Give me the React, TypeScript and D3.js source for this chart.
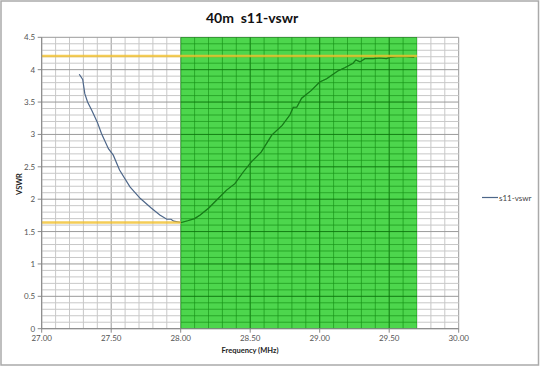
import * as d3 from 'd3';
import React, { useEffect, useRef } from 'react';

// s11 sweep
const freqs = [
  27.27, 27.295, 27.31, 27.33, 27.36, 27.4, 27.43, 27.48, 27.515, 27.56, 27.635, 27.71, 27.79, 27.85, 27.9, 27.93, 27.95,
  28.005, 28.05, 28.1, 28.14, 28.2, 28.27, 28.33, 28.39, 28.45, 28.51, 28.58, 28.655, 28.73, 28.785, 28.81, 28.835, 28.87,
  28.94, 29.0, 29.05, 29.13, 29.18, 29.24, 29.26, 29.29, 29.325, 29.385, 29.43, 29.48, 29.505, 29.55, 29.62, 29.68,
];
const vswr = [
  3.93, 3.85, 3.63, 3.5, 3.375, 3.19, 3.015, 2.78, 2.68, 2.45, 2.19, 2.01, 1.86, 1.755, 1.69, 1.69, 1.66,
  1.64, 1.667, 1.7, 1.755, 1.86, 2.01, 2.14, 2.24, 2.42, 2.58, 2.73, 2.99, 3.14, 3.3, 3.42, 3.42, 3.56,
  3.68, 3.81, 3.86, 3.98, 4.03, 4.1, 4.15, 4.12, 4.17, 4.17, 4.18, 4.17, 4.19, 4.2, 4.2, 4.19,
];
const band = [28.0, 29.7];
const upperLimit = { value: 4.21, from: 27.0, to: 29.7 };
const lowerLimit = { value: 1.64, from: 27.0, to: 28.0 };
const xTicks = [27, 27.5, 28, 28.5, 29, 29.5, 30];
const yTicks = [0, 0.5, 1, 1.5, 2, 2.5, 3, 3.5, 4, 4.5];

const font = 'Lato, "Open Sans", sans-serif';

export default function App() {
  const ref = useRef<SVGSVGElement>(null);

  useEffect(() => {
    if (!ref.current) return;
    const width = 540;
    const height = 367;
    const m = { left: 41.7, right: 540 - 458.7, top: 37.3, bottom: 367 - 328.7 };

    const svg = d3.select(ref.current).attr('width', width).attr('height', height);
    svg.selectAll('*').remove();

    svg.append('rect').attr('x', 1).attr('y', 1).attr('width', width - 2.5).attr('height', height - 3)
      .attr('fill', '#fff').attr('stroke', '#aaa').attr('stroke-width', 1.5);

    const x = d3.scaleLinear().domain([27, 30]).range([m.left, width - m.right]);
    const y = d3.scaleLinear().domain([0, 4.5]).range([height - m.bottom, m.top]);

    const g = svg.append('g');
    const minorX = d3.range(0, 31).map(i => 27 + i * 0.1);
    const minorY = d3.range(0, 46).map(i => i * 0.1);
    const isMajor = (v: number) => Math.abs(v * 2 - Math.round(v * 2)) < 1e-6;

    const drawGrid = (sel: d3.Selection<SVGGElement, unknown, null, undefined>, minor: string, major: string) => {
      sel.selectAll('.gx').data(minorX).enter().append('line')
        .attr('x1', d => x(d)).attr('x2', d => x(d)).attr('y1', y(0)).attr('y2', y(4.5))
        .attr('stroke', d => (isMajor(d) ? major : minor)).attr('stroke-width', 1);
      sel.selectAll('.gy').data(minorY).enter().append('line')
        .attr('x1', x(27)).attr('x2', x(30)).attr('y1', d => y(d)).attr('y2', d => y(d))
        .attr('stroke', d => (isMajor(d) ? major : minor)).attr('stroke-width', 1);
    };
    drawGrid(g.append('g'), '#c8c8c8', '#9a9a9a');

    const line = d3.line<number>().x((d, i) => x(freqs[i])).y(d => y(d));
    g.append('path').datum(vswr).attr('d', line).attr('fill', 'none')
      .attr('stroke', '#4d6689').attr('stroke-width', 1.2);

    // highlighted band
    g.append('rect').attr('x', x(band[0])).attr('y', y(4.5))
      .attr('width', x(band[1]) - x(band[0])).attr('height', y(0) - y(4.5))
      .attr('fill', '#2ecf2e').attr('opacity', 0.85);

    svg.append('clipPath').attr('id', 'bandclip').append('rect')
      .attr('x', x(band[0])).attr('y', y(4.5))
      .attr('width', x(band[1]) - x(band[0])).attr('height', y(0) - y(4.5));
    const bandGrid = g.append('g').attr('clip-path', 'url(#bandclip)');
    drawGrid(bandGrid, 'rgba(20,140,20,0.55)', 'rgba(10,110,10,0.8)');
    g.append('path').datum(vswr).attr('d', line).attr('fill', 'none')
      .attr('clip-path', 'url(#bandclip)')
      .attr('stroke', '#187a18').attr('stroke-width', 1.2);

    [upperLimit, lowerLimit].forEach(l => {
      g.append('line').attr('x1', x(l.from)).attr('x2', x(l.to)).attr('y1', y(l.value)).attr('y2', y(l.value))
        .attr('stroke', '#f2c12e').attr('stroke-width', 2.5).attr('opacity', 0.8);
    });

    // axes lines
    g.append('line').attr('x1', x(27)).attr('x2', x(30)).attr('y1', y(0)).attr('y2', y(0)).attr('stroke', '#888');
    g.append('line').attr('x1', x(27)).attr('x2', x(27)).attr('y1', y(0)).attr('y2', y(4.5)).attr('stroke', '#888');
    g.selectAll('.tx').data(xTicks).enter().append('line')
      .attr('x1', d => x(d)).attr('x2', d => x(d)).attr('y1', y(0)).attr('y2', y(0) + 4).attr('stroke', '#888');
    g.selectAll('.ty').data(yTicks).enter().append('line')
      .attr('x1', x(27) - 4).attr('x2', x(27)).attr('y1', d => y(d)).attr('y2', d => y(d)).attr('stroke', '#888');

    g.selectAll('.lx').data(xTicks).enter().append('text')
      .attr('x', d => x(d)).attr('y', y(0) + 12.5).attr('text-anchor', 'middle')
      .style('font', `8px ${font}`).attr('fill', '#555').text(d => d.toFixed(2));
    g.selectAll('.ly').data(yTicks).enter().append('text')
      .attr('x', x(27) - 6.5).attr('y', d => y(d) + 3).attr('text-anchor', 'end')
      .style('font', `8px ${font}`).attr('fill', '#555').text(d => String(d));

    svg.append('text').attr('x', 252).attr('y', 23).attr('text-anchor', 'middle')
      .style('font', `bold 14px ${font}`).style('white-space', 'pre').attr('fill', '#111')
      .text('40m  s11-vswr');
    svg.append('text').attr('x', 250).attr('y', 353).attr('text-anchor', 'middle')
      .style('font', `bold 7.5px ${font}`).attr('fill', '#222').text('Frequency (MHz)');
    svg.append('text').attr('transform', 'translate(22,184) rotate(-90)').attr('text-anchor', 'middle')
      .style('font', `bold 7.5px ${font}`).attr('fill', '#222').text('VSWR');

    // legend
    svg.append('line').attr('x1', 482).attr('x2', 498).attr('y1', 197.5).attr('y2', 197.5)
      .attr('stroke', '#4d6689').attr('stroke-width', 1.2);
    svg.append('text').attr('x', 499).attr('y', 200.5)
      .style('font', `8px ${font}`).attr('fill', '#444').text('s11-vswr');
  }, []);

  return <svg ref={ref} style={{ position: 'absolute', left: 0, top: 0 }} />;
}
